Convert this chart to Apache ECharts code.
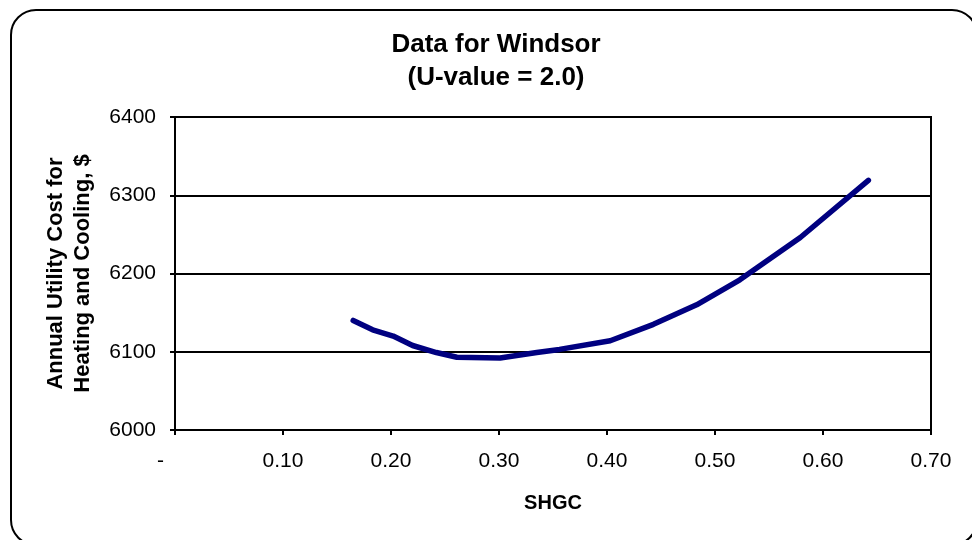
<!DOCTYPE html>
<html>
<head>
<meta charset="utf-8">
<script src="https://cdn.jsdelivr.net/npm/echarts@6/dist/echarts.min.js"></script>
<style>
html,body{margin:0;padding:0;background:#fff;}
#chart{width:972px;height:540px;}
</style>
</head>
<body>
<div id="chart"></div>
<script>
// Data
var titleLines = ['Data for Windsor', '(U-value = 2.0)'];
var xAxisTitle = 'SHGC';
var yAxisTitle = 'Annual Utility Cost for\nHeating and Cooling, $';
var shgc = [0.165, 0.183, 0.202, 0.220, 0.242, 0.261, 0.301, 0.335, 0.356, 0.403, 0.443, 0.483, 0.523, 0.579, 0.642];
var cost = [6140, 6128, 6120, 6108, 6099, 6093, 6092, 6099, 6103, 6114, 6135, 6160, 6192, 6246, 6319];
var xTicks = [0, 0.1, 0.2, 0.3, 0.4, 0.5, 0.6, 0.7];
var yTicks = [6000, 6100, 6200, 6300, 6400];

var FONT = '"Liberation Sans", Arial, sans-serif';
var chart = echarts.init(document.getElementById('chart'), null, {renderer: 'canvas'});
var points = shgc.map(function (x, i) { return [x, cost[i]]; });

chart.setOption({
  animation: false,
  backgroundColor: '#fff',
  graphic: [{
    type: 'rect',
    shape: {x: 11, y: 10, width: 966, height: 535, r: 25},
    style: {fill: 'none', stroke: '#000', lineWidth: 2},
    silent: true,
    z: -1
  }, {
    type: 'text',
    x: 496,
    y: 28,
    style: {
      text: titleLines.join('\n'),
      align: 'center',
      verticalAlign: 'top',
      fontFamily: FONT, fontSize: 26, fontWeight: 'bold', fill: '#000', lineHeight: 33
    },
    silent: true
  }],
  grid: {
    left: 175, top: 117, right: 41, bottom: 110,
    show: true, borderColor: '#000', borderWidth: 2, backgroundColor: 'transparent'
  },
  xAxis: {
    type: 'value',
    min: xTicks[0], max: xTicks[xTicks.length - 1], interval: 0.1,
    name: xAxisTitle, nameLocation: 'middle', nameGap: 63,
    nameTextStyle: {fontFamily: FONT, fontSize: 20, fontWeight: 'bold', color: '#000'},
    axisLine: {show: true, lineStyle: {color: '#000', width: 2}},
    axisTick: {show: true, inside: false, length: 5, lineStyle: {color: '#000', width: 2}},
    splitLine: {show: false},
    axisLabel: {
      margin: 21, fontFamily: FONT, fontSize: 21, color: '#000',
      formatter: function (v) { return Math.abs(v) < 1e-9 ? '-     ' : v.toFixed(2); }
    }
  },
  yAxis: {
    type: 'value',
    min: yTicks[0], max: yTicks[yTicks.length - 1], interval: 100,
    name: yAxisTitle, nameLocation: 'middle', nameGap: 79,
    nameTextStyle: {fontFamily: FONT, fontSize: 22, fontWeight: 'bold', color: '#000', lineHeight: 27},
    axisLine: {show: true, lineStyle: {color: '#000', width: 2}},
    axisTick: {show: true, inside: false, length: 5, lineStyle: {color: '#000', width: 2}},
    splitLine: {show: true, lineStyle: {color: '#000', width: 2}},
    axisLabel: {
      margin: 19, fontFamily: FONT, fontSize: 21, color: '#000',
      formatter: function (v) { return String(v); }
    }
  },
  series: [{
    type: 'line',
    data: points,
    showSymbol: false,
    smooth: false,
    lineStyle: {color: '#000080', width: 5.5, cap: 'round', join: 'round'},
    itemStyle: {color: '#000080'}
  }]
});
</script>
</body>
</html>
